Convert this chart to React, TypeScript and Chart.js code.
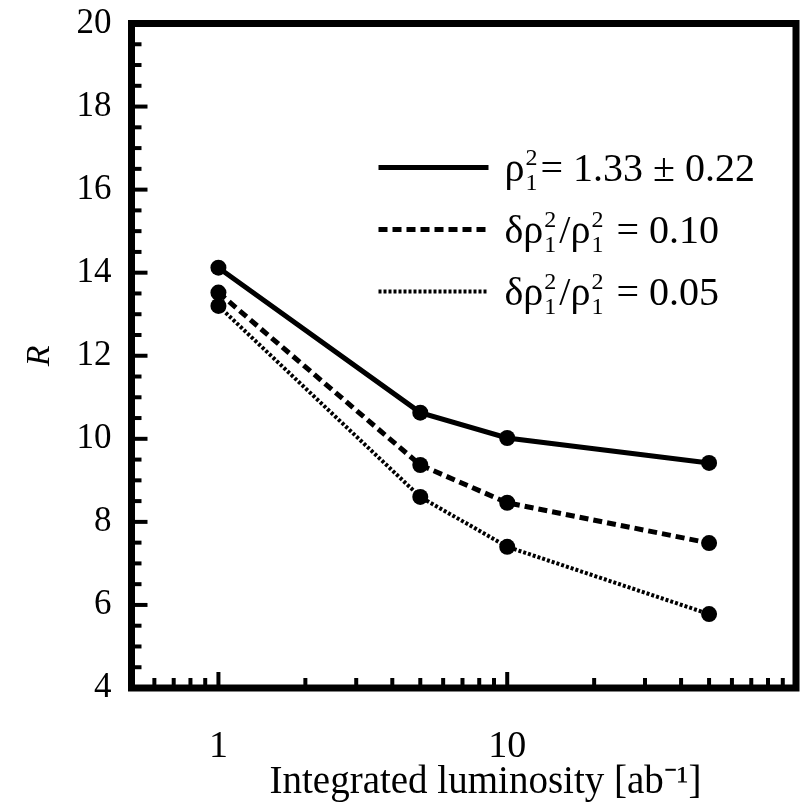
import React, { useEffect, useRef } from 'react';
import { Chart, registerables } from 'chart.js';

Chart.register(...registerables);

// ---- data ----
const luminosity = [1, 5, 10, 50];
const rhoFit = [14.12, 10.63, 10.02, 9.42];
const delta010 = [13.52, 9.37, 8.46, 7.49];
const delta005 = [13.2, 8.6, 7.4, 5.78];

const xTickValues = [0.6, 0.7, 0.8, 0.9, 1, 2, 3, 4, 5, 6, 7, 8, 9, 10, 20, 30, 40, 50, 60, 70, 80, 90];
const xLabelledTicks = [1, 10];
const yTickValues = [4, 4.5, 5, 5.5, 6, 6.5, 7, 7.5, 8, 8.5, 9, 9.5, 10, 10.5, 11, 11.5, 12, 12.5, 13, 13.5, 14, 14.5, 15, 15.5, 16, 16.5, 17, 17.5, 18, 18.5, 19, 19.5, 20];
const yLabelledTicks = [4, 6, 8, 10, 12, 14, 16, 18, 20];

const xTitle = 'Integrated luminosity [ab⁻¹]';
const yTitle = 'R';

// legend text segments: plain text or stacked sup/sub
type Seg = { t?: string; sup?: string; sub?: string };
const legendSolid: Seg[] = [{ t: 'ρ' }, { sup: '2', sub: '1' }, { t: '= 1.33 ± 0.22' }];
const legendDashed: Seg[] = [{ t: 'δρ' }, { sup: '2', sub: '1' }, { t: '/ρ' }, { sup: '2', sub: '1' }, { t: ' = 0.10' }];
const legendDotted: Seg[] = [{ t: 'δρ' }, { sup: '2', sub: '1' }, { t: '/ρ' }, { sup: '2', sub: '1' }, { t: ' = 0.05' }];
const legendTexts = [legendSolid, legendDashed, legendDotted];

const TEXT_FONT = "'Liberation Serif'";

const framePlugin = {
  id: 'frameAndTicks',
  afterDraw(chart: any) {
    const { ctx, chartArea } = chart;
    const { left, right, top, bottom } = chartArea;
    ctx.save();
    ctx.strokeStyle = '#000';
    ctx.lineWidth = 7;
    ctx.lineJoin = 'miter';
    ctx.strokeRect(left, top, right - left, bottom - top);

    ctx.lineWidth = 4;
    ctx.lineCap = 'butt';
    const xs = chart.scales.x;
    xs.ticks.forEach((t: any) => {
      const px = xs.getPixelForValue(t.value);
      const len = xLabelledTicks.includes(t.value) ? 16 : 10;
      ctx.beginPath();
      ctx.moveTo(px, bottom);
      ctx.lineTo(px, bottom - len);
      ctx.stroke();
    });
    const ys = chart.scales.y;
    ys.ticks.forEach((t: any) => {
      const py = ys.getPixelForValue(t.value);
      const len = yLabelledTicks.includes(t.value) ? 16 : 10;
      ctx.beginPath();
      ctx.moveTo(left, py);
      ctx.lineTo(left + len, py);
      ctx.stroke();
    });

    // x-axis title
    ctx.fillStyle = '#000';
    ctx.font = `39px ${TEXT_FONT}`;
    ctx.textAlign = 'center';
    ctx.textBaseline = 'alphabetic';
    ctx.fillText(xTitle, left + 354, bottom + 105);
    ctx.restore();
  },
};

const legendPlugin = {
  id: 'mathLegend',
  afterDraw(chart: any) {
    const { ctx, chartArea } = chart;
    const x0 = chartArea.left + 247;
    const x1 = chartArea.left + 357;
    const tx = chartArea.left + 373;
    const y0 = chartArea.top + 144;
    const dy = 62;
    ctx.save();
    chart.data.datasets.forEach((ds: any, i: number) => {
      const y = y0 + i * dy;
      ctx.strokeStyle = '#000';
      ctx.lineWidth = ds.borderWidth;
      ctx.setLineDash(ds.borderDash || []);
      ctx.beginPath();
      ctx.moveTo(x0, y);
      ctx.lineTo(x1, y);
      ctx.stroke();
      ctx.setLineDash([]);

      let x = tx;
      const base = y + 13;
      ctx.fillStyle = '#000';
      ctx.textBaseline = 'alphabetic';
      ctx.textAlign = 'left';
      legendTexts[i].forEach((s) => {
        if (s.t !== undefined) {
          ctx.font = `40px ${TEXT_FONT}`;
          ctx.fillText(s.t, x, base);
          x += ctx.measureText(s.t).width;
        } else {
          ctx.font = `24px ${TEXT_FONT}`;
          const w = Math.max(ctx.measureText(s.sup || '').width, ctx.measureText(s.sub || '').width);
          ctx.fillText(s.sup || '', x + 1, base - 16);
          ctx.fillText(s.sub || '', x + 1, base + 9);
          x += w + 4;
        }
      });
    });
    ctx.restore();
  },
};

export default function App() {
  const ref = useRef<HTMLCanvasElement | null>(null);
  useEffect(() => {
    document.body.style.margin = '0';
    const canvas = ref.current;
    if (!canvas) return;
    const mk = (vals: number[]) => luminosity.map((x, i) => ({ x, y: vals[i] }));
    const common = {
      borderColor: '#000',
      pointBackgroundColor: '#000',
      pointBorderColor: '#000',
      pointBorderWidth: 0,
      pointRadius: 8,
      fill: false,
      tension: 0,
    };
    const zeroPad = (s: any) => {
      s.paddingLeft = 0;
      s.paddingRight = 0;
      s.paddingTop = 0;
      s.paddingBottom = 0;
    };
    const chart = new Chart(canvas, {
      type: 'line',
      data: {
        datasets: [
          { ...common, label: 'rho', data: mk(rhoFit), borderWidth: 5 },
          { ...common, label: 'd10', data: mk(delta010), borderWidth: 5, borderDash: [9, 5] },
          { ...common, label: 'd05', data: mk(delta005), borderWidth: 4, borderDash: [3, 2] },
        ],
      },
      options: {
        animation: false,
        responsive: false,
        maintainAspectRatio: false,
        layout: { padding: { left: 0, right: 6, top: 23.5, bottom: 0 } },
        plugins: { legend: { display: false }, tooltip: { enabled: false } },
        scales: {
          x: {
            type: 'logarithmic',
            min: 0.5,
            max: 100,
            grid: { display: false, drawTicks: false },
            border: { display: false },
            afterBuildTicks: (s: any) => {
              s.ticks = xTickValues.map((v) => ({ value: v, major: xLabelledTicks.includes(v) }));
            },
            afterFit: (s: any) => {
              s.height = 115;
              zeroPad(s);
            },
            ticks: {
              autoSkip: false,
              maxRotation: 0,
              padding: 36,
              color: '#000',
              font: { family: 'Liberation Serif', size: 38 },
              callback: (v: any) => (xLabelledTicks.includes(Number(v)) ? String(v) : ''),
            },
            title: { display: false },
          },
          y: {
            min: 4,
            max: 20,
            grid: { display: false, drawTicks: false },
            border: { display: false },
            afterBuildTicks: (s: any) => {
              s.ticks = yTickValues.map((v) => ({ value: v, major: yLabelledTicks.includes(v) }));
            },
            afterFit: (s: any) => {
              s.width = 131.5;
              zeroPad(s);
            },
            ticks: {
              autoSkip: false,
              padding: 20,
              color: '#000',
              font: { family: 'Liberation Serif', size: 35 },
              callback: (v: any) => (yLabelledTicks.includes(Number(v)) ? String(v) : ''),
            },
            title: {
              display: true,
              text: yTitle,
              color: '#000',
              font: { family: 'Liberation Serif', size: 34, style: 'italic' },
              padding: { top: 20, bottom: 0 },
            },
          },
        },
      },
      plugins: [framePlugin, legendPlugin],
    } as any);
    return () => chart.destroy();
  }, []);
  return <canvas ref={ref} width={804} height={803} style={{ display: 'block' }} />;
}
